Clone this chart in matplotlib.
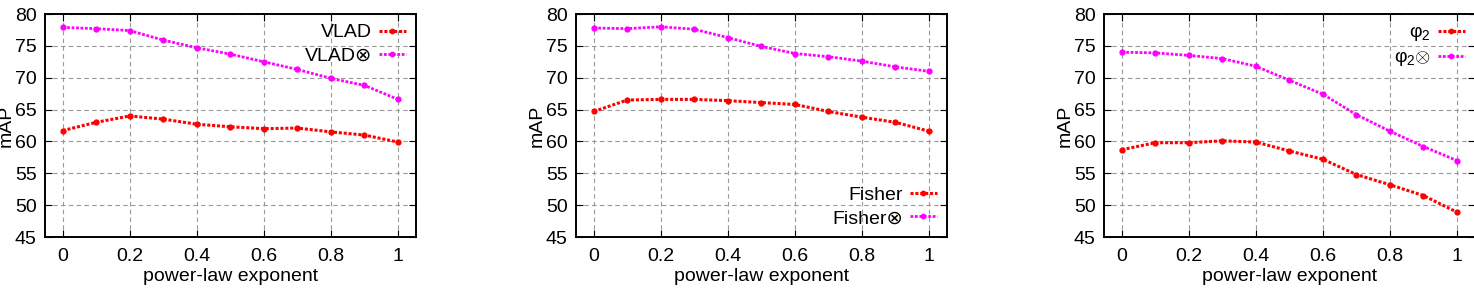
import matplotlib
matplotlib.use("Agg")
import matplotlib.pyplot as plt

plt.rcParams['font.family'] = ['Liberation Sans', 'DejaVu Sans']
plt.rcParams['mathtext.fontset'] = 'custom'
plt.rcParams['mathtext.rm'] = 'Liberation Sans'
plt.rcParams['mathtext.it'] = 'Liberation Sans'
plt.rcParams['mathtext.fallback'] = 'cm'

# power-law exponent values
x = [0, 0.1, 0.2, 0.3, 0.4, 0.5, 0.6, 0.7, 0.8, 0.9, 1.0]

vlad = [61.7, 63.0, 64.0, 63.5, 62.7, 62.3, 62.0, 62.1, 61.5, 61.0, 59.9]
vlad_t = [77.9, 77.7, 77.4, 75.9, 74.7, 73.7, 72.5, 71.3, 69.9, 68.8, 66.6]

fisher = [64.7, 66.5, 66.6, 66.6, 66.4, 66.1, 65.8, 64.7, 63.8, 63.0, 61.6]
fisher_t = [77.8, 77.7, 78.0, 77.6, 76.3, 74.9, 73.8, 73.3, 72.6, 71.7, 71.0]

phi = [58.7, 59.8, 59.8, 60.1, 59.9, 58.5, 57.2, 54.8, 53.2, 51.5, 48.9]
phi_t = [74.0, 73.9, 73.5, 73.0, 71.8, 69.6, 67.4, 64.2, 61.6, 59.2, 57.0]

panels = [
    (vlad, vlad_t, "VLAD", "VLAD\u2297", "upper right", 0.0305),
    (fisher, fisher_t, "Fisher", "Fisher\u2297", "lower right", 0.3908),
    (phi, phi_t, "\u03c6$_2$", "\u03c6$_2$$\\otimes$", "upper right", 0.749),
]

fs = 14

fig = plt.figure(figsize=(14.74, 2.96), dpi=100)

for a, b, l1, l2, loc, left in panels:
    ax = fig.add_axes([left, 0.1993, 0.2515, 0.7534])
    ax.plot(x, a, color='#ff0000', linestyle=(0, (1, 0.6)), lw=2.2,
            marker='o', markersize=3.5, label=l1)
    ax.plot(x, b, color='#ff00ff', linestyle=(0, (1, 0.6)), lw=2.0,
            marker='o', markersize=3.5, label=l2)
    ax.set_xlim(-0.053, 1.053)
    ax.set_ylim(45, 80)
    ax.set_xticks([0, 0.2, 0.4, 0.6, 0.8, 1])
    ax.set_xticklabels(['0', '0.2', '0.4', '0.6', '0.8', '1'])
    ax.set_yticks(range(45, 81, 5))
    ax.grid(True, color='#999999', linestyle=(0, (4, 3)), lw=0.8)
    ax.tick_params(direction='in', top=True, right=True, length=5,
                   labelsize=fs, pad=6)
    ax.tick_params(axis='x', pad=8)
    for s in ax.spines.values():
        s.set_linewidth(1.4)
    ax.set_xlabel("power-law exponent", fontsize=fs, labelpad=2)
    ax.set_ylabel("mAP", fontsize=fs, labelpad=0)
    ax.legend(loc=loc, frameon=False, markerfirst=False, fontsize=fs,
              handlelength=1.4, handletextpad=0.35, labelspacing=0.28,
              borderpad=0.2, borderaxespad=0.3, markerscale=0.9)

fig.savefig("out.png", dpi=100)
